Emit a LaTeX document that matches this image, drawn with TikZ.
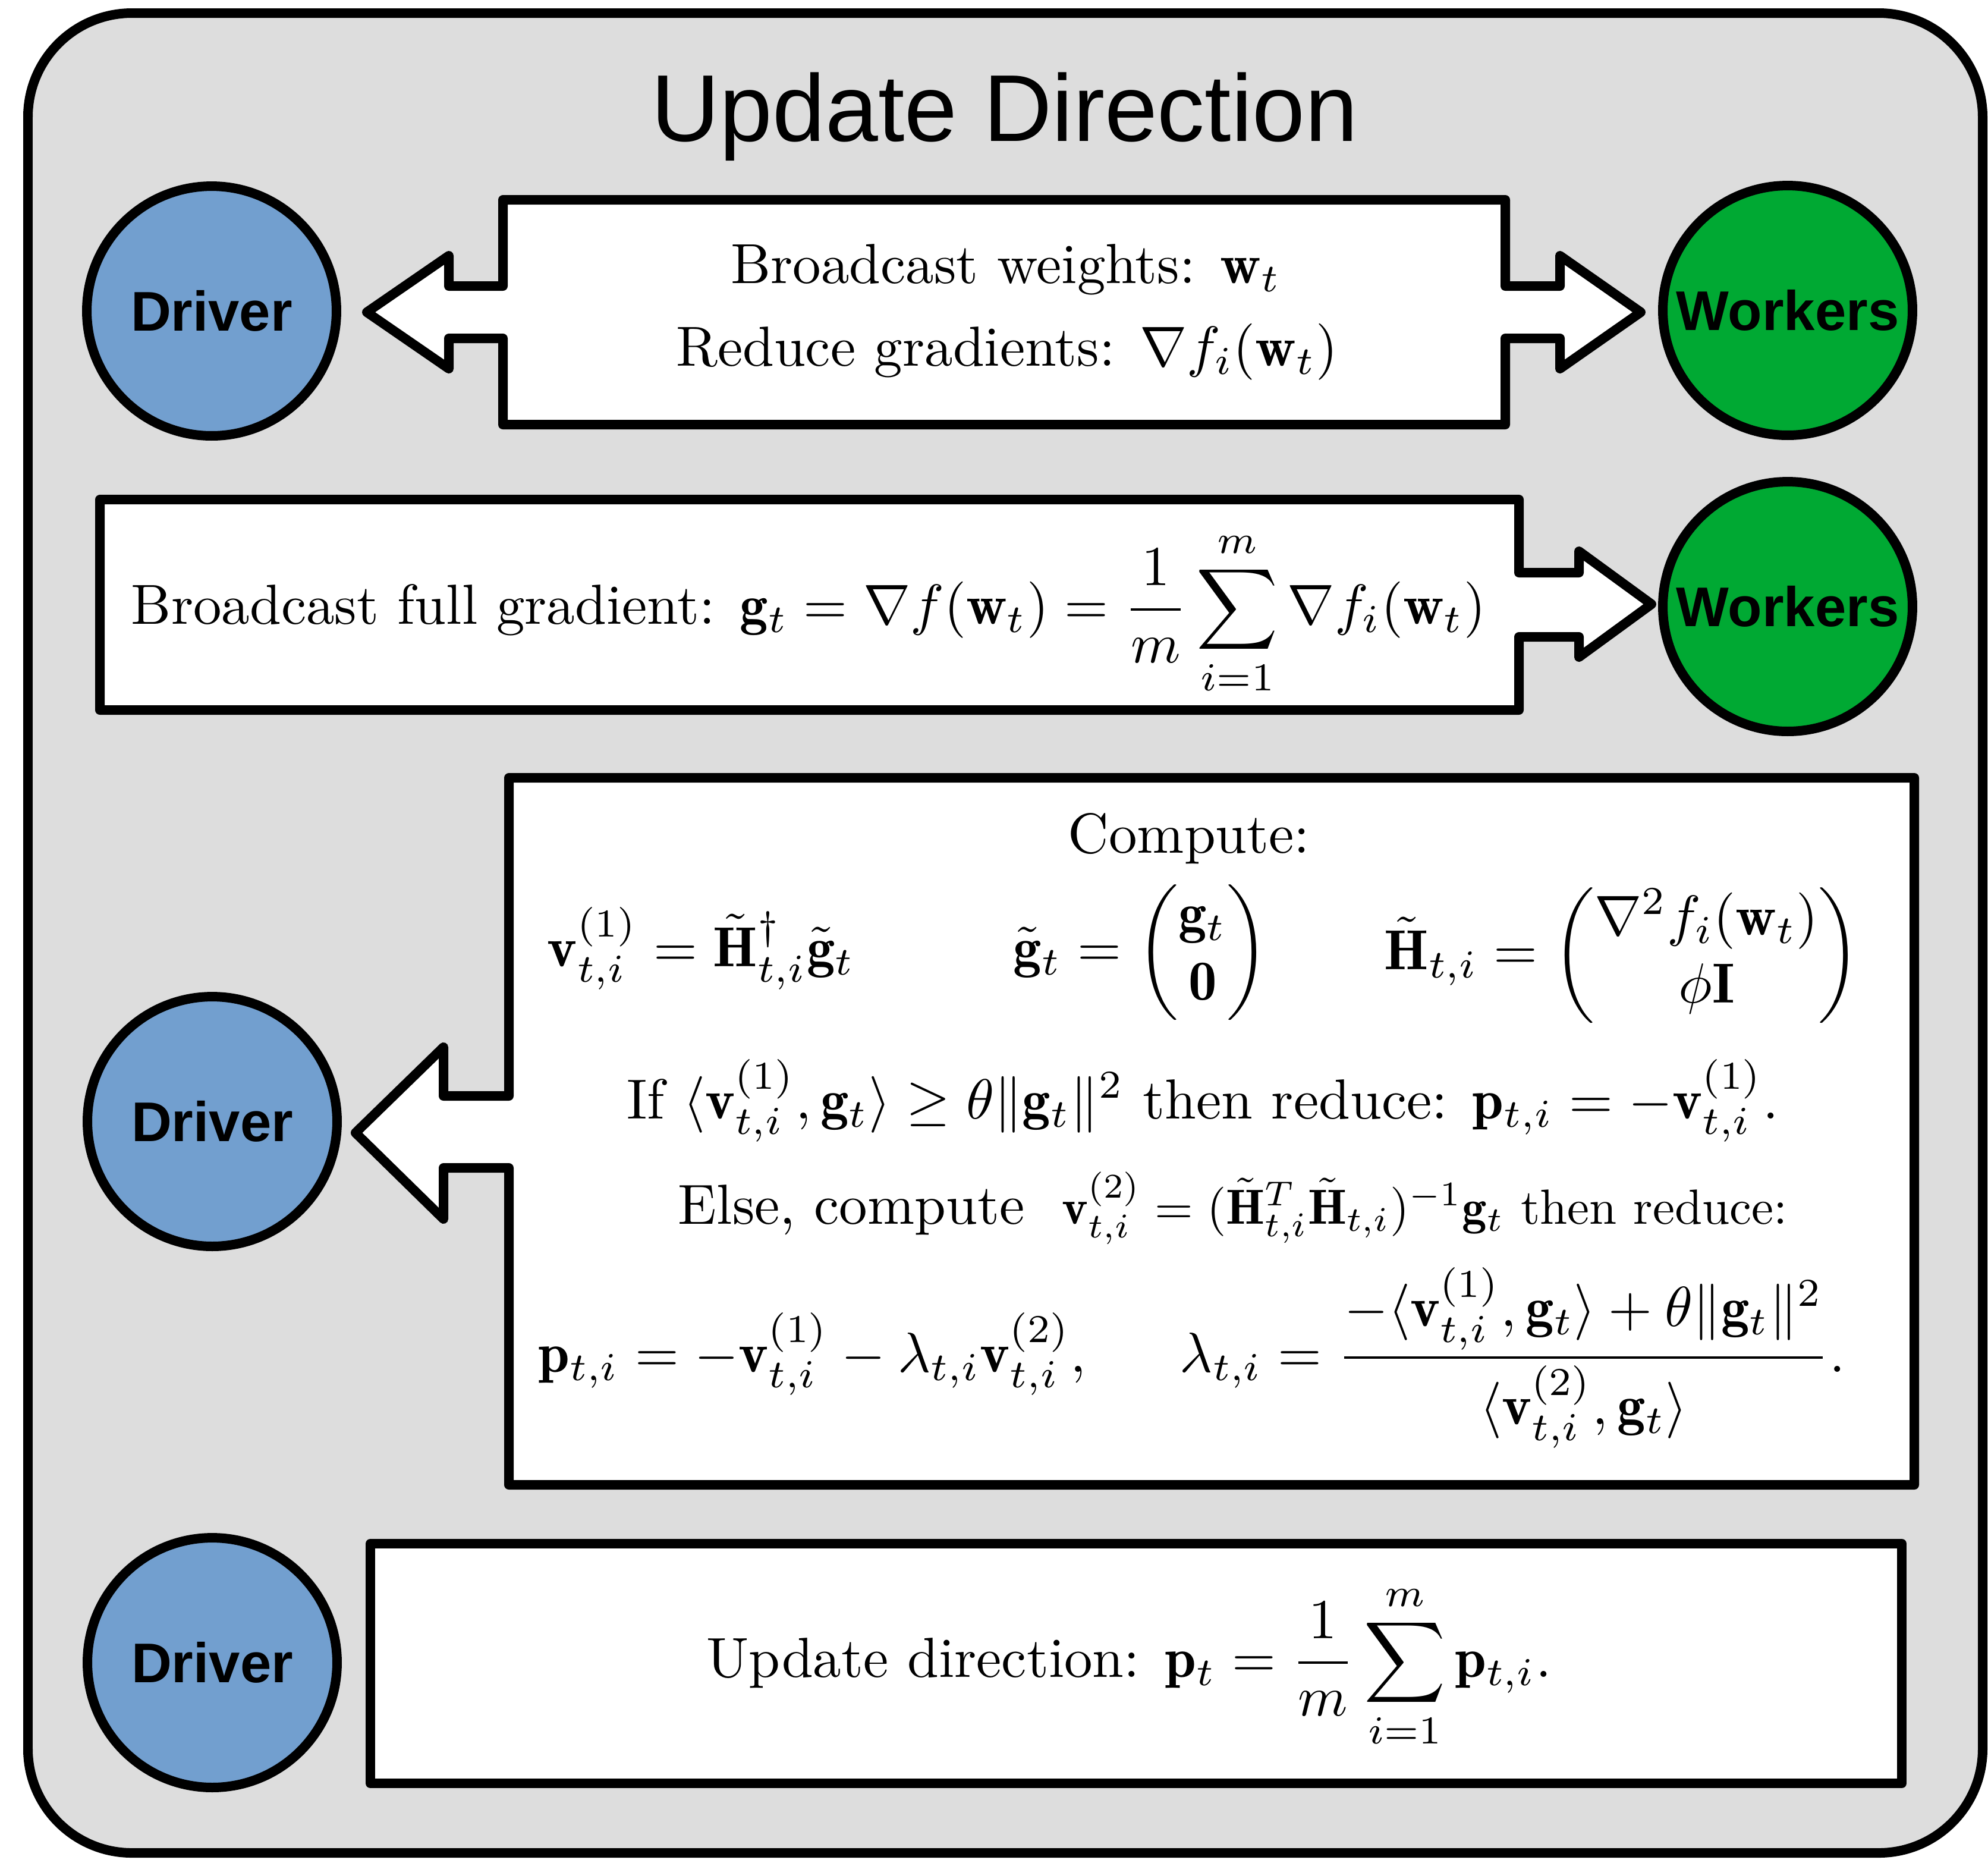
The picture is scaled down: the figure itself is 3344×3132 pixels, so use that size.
\documentclass[tikz,border=0pt]{standalone}
\usepackage{amsmath}
\usepackage{graphicx}
\usepackage{fontspec}
\setsansfont{Liberation Sans}
\definecolor{bgc}{HTML}{DDDDDD}
\definecolor{drv}{HTML}{729FCF}
\definecolor{wrk}{HTML}{00A933}
\tikzset{
  frame/.style={line width=1.684pt, line join=round, draw=black},
  agent/.style={circle, draw=black, line width=1.684pt, minimum size=44.2pt, inner sep=0pt,
    font=\sffamily\bfseries\fontsize{9.9}{12}\selectfont},
  driver/.style={agent, fill=drv},
  workers/.style={agent, fill=wrk},
  mtxt/.style={inner sep=0pt, anchor=base, font=\fontsize{10}{12}\selectfont},
}
\begin{document}
\begin{tikzpicture}[x=0.10526pt, y=-0.10526pt]
\fill[white] (0,0) rectangle (3344,3132);
\useasboundingbox (0,0) rectangle (3344,3132);
% outer frame
\draw[frame, fill=bgc, rounded corners=18.4pt] (47,22) rectangle (3335,3116);
\node[anchor=base, inner sep=0pt, font=\sffamily\fontsize{16.8}{20}\selectfont] (title) at (1690,237) {Update Direction};

% agents
\node[driver] (d1) at (356,523) {Driver};
\node[workers] (w1) at (3007,522) {Workers};
\node[workers] (w2) at (3007,1020) {Workers};
\node[driver] (d3) at (357,1886) {Driver};
\node[driver] (d4) at (357,2796) {Driver};

% row 1 double arrow
\draw[frame, fill=white] (846,336) -- (2532,336) -- (2532,481) -- (2624,481) -- (2624,430)
  -- (2760,525) -- (2624,620) -- (2624,569) -- (2532,569) -- (2532,714) -- (846,714)
  -- (846,569) -- (755,569) -- (755,620) -- (617,525) -- (755,430) -- (755,481)
  -- (846,481) -- cycle;
\node[mtxt] (r1a) at (1692,476) {Broadcast weights: $\mathbf{w}_t$};
\node[mtxt] (r1b) at (1694,615) {Reduce gradients: $\nabla f_i(\mathbf{w}_t)$};

% row 2 arrow
\draw[frame, fill=white] (168,840) -- (2555,840) -- (2555,963) -- (2656,963) -- (2656,927)
  -- (2778,1016) -- (2656,1105) -- (2656,1071) -- (2555,1071) -- (2555,1194)
  -- (168,1194) -- cycle;
\node[mtxt] (r2) at (1360,1049) {Broadcast full gradient: $\displaystyle \mathbf{g}_t = \nabla f(\mathbf{w}_t) = \frac{1}{m}\sum_{i=1}^{m} \nabla f_i(\mathbf{w}_t)$};

% row 3 arrow box
\draw[frame, fill=white] (856,1308) -- (3220,1308) -- (3220,2497) -- (856,2497)
  -- (856,1964) -- (746,1964) -- (746,2050) -- (598,1905) -- (746,1761)
  -- (746,1843) -- (856,1843) -- cycle;
\node[mtxt] (c0) at (2000,1434) {Compute:};
\node[mtxt, anchor=base west] (c1) at (919,1625) {$\mathbf{v}^{(1)}_{t,i} = \tilde{\mathbf{H}}^{\dagger}_{t,i}\tilde{\mathbf{g}}_t$};
\node[mtxt, anchor=base west] (c2) at (1703,1625) {$\tilde{\mathbf{g}}_t = \begin{pmatrix}\mathbf{g}_t\\ \mathbf{0}\end{pmatrix}$};
\node[mtxt, anchor=base west] (c3) at (2327,1630) {$\tilde{\mathbf{H}}_{t,i} = \begin{pmatrix}\nabla^2 f_i(\mathbf{w}_t)\\ \phi\mathbf{I}\end{pmatrix}$};
\node[mtxt] (c4) at (2023,1881) {If $\langle \mathbf{v}^{(1)}_{t,i}, \mathbf{g}_t\rangle \geq \theta\|\mathbf{g}_t\|^2$ then reduce: $\mathbf{p}_{t,i} = -\mathbf{v}^{(1)}_{t,i}$.};
\node[mtxt, anchor=base west] (c5) at (1139,2058) {Else, compute\ \ \scalebox{0.875}{$\mathbf{v}^{(2)}_{t,i} = (\tilde{\mathbf{H}}^T_{t,i}\tilde{\mathbf{H}}_{t,i})^{-1}\mathbf{g}_t$ then reduce:}};
\node[mtxt, anchor=base west] (c6) at (904,2307) {$\mathbf{p}_{t,i} = -\mathbf{v}^{(1)}_{t,i} - \lambda_{t,i}\mathbf{v}^{(2)}_{t,i},$};
\node[mtxt, anchor=base west] (c7) at (1983,2307) {$\displaystyle \lambda_{t,i} = \frac{-\langle \mathbf{v}^{(1)}_{t,i}, \mathbf{g}_t\rangle + \theta\|\mathbf{g}_t\|^2}{\langle \mathbf{v}^{(2)}_{t,i}, \mathbf{g}_t\rangle}.$};

% row 4 box
\draw[frame, fill=white] (623,2596) rectangle (3199,2999);
\node[mtxt] (u1) at (1899,2820) {Update direction: $\displaystyle \mathbf{p}_t = \frac{1}{m}\sum_{i=1}^{m} \mathbf{p}_{t,i}.$};
\end{tikzpicture}
\end{document}
